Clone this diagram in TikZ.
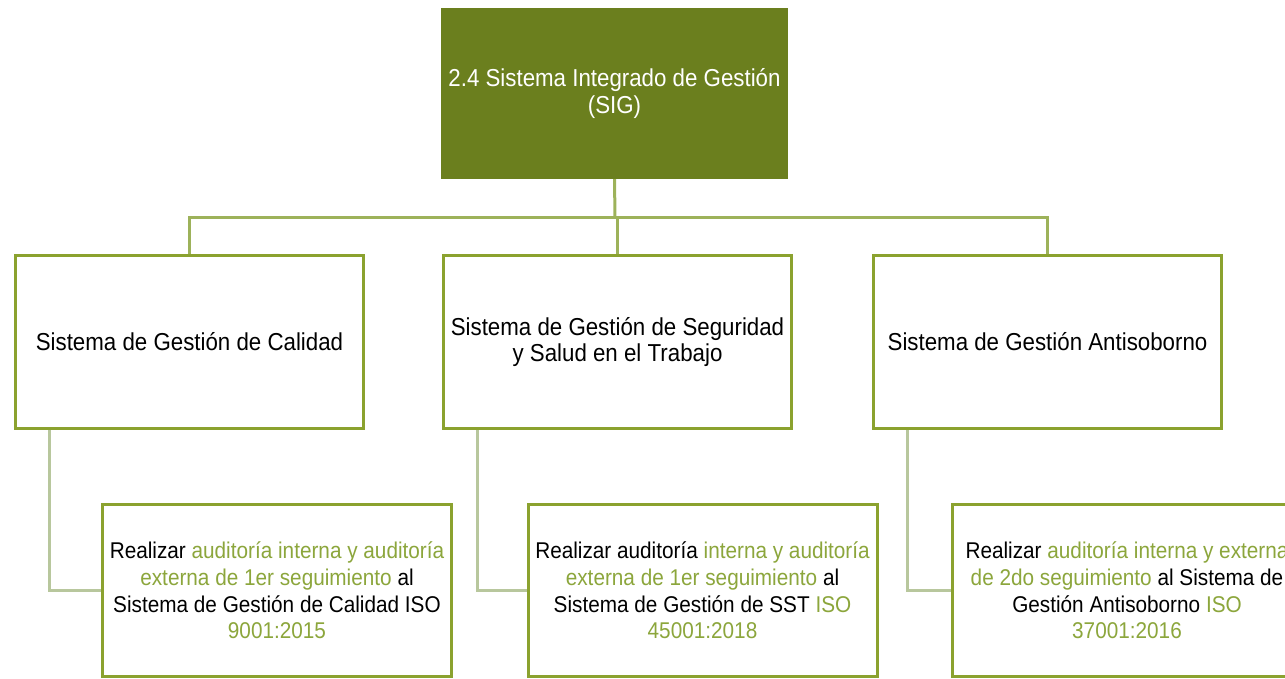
\documentclass[tikz,border=0pt]{standalone}
\usepackage{fontspec}
\setmainfont{Liberation Sans}[FakeStretch=0.91]
\usepackage{tikz}
\usetikzlibrary{positioning}
\definecolor{oliva}{HTML}{6B7F1E}
\definecolor{borde}{HTML}{8BA22F}
\definecolor{texto}{HTML}{8CA63C}
\definecolor{linea}{HTML}{9DB25A}
\definecolor{lineaclara}{HTML}{B8C79D}
\newcommand{\verde}[1]{\textcolor{texto}{#1}}

\begin{document}
\begin{tikzpicture}[x=1pt,y=-1pt,
                font=\fontsize{24.5}{26.7}\selectfont,
                caja/.style={draw=borde,line width=3pt,fill=white,
                    minimum width=348pt,minimum height=173pt,
                    inner sep=0pt,align=center,rectangle},
                tarea/.style={caja,minimum width=349pt,minimum height=172pt,
                    font=\fontsize{22.8}{26.7}\selectfont},
                titulo/.style={fill=oliva,text=white,
                    minimum width=347pt,minimum height=171pt,
                    inner sep=0pt,align=center,rectangle},
                bus/.style={draw=linea,line width=3pt},
                rama/.style={draw=lineaclara,line width=3pt}]
                \useasboundingbox (0,0) rectangle (1285,678);
                \clip (0,0) rectangle (1285,678);
                \node[titulo](sig) at (614.5, 93.5) {2.4 Sistema Integrado de Gestión\\(SIG)};
                \node[caja](cal) at (189.5, 342) {Sistema de Gestión de Calidad};
                \node[caja](sst) at (617.5, 342) {Sistema de Gestión de Seguridad\\y Salud en el Trabajo};
                \node[caja](abs) at (1047.5, 342) {Sistema de Gestión Antisoborno};
                \coordinate (union) at (615, 217);
                \draw[bus] (sig.south) -- (union);
                \draw[bus] (cal.north) |- (union) -| (abs.north);
                \draw[bus] (sst.north) -- (sst.north |- union);
                \node[tarea](audcal) at (277, 590.5)
                    {Realizar \verde{auditoría interna y auditoría}\\
                     \verde{externa de 1er seguimiento} al\\
                     Sistema de Gestión de Calidad ISO\\
                     \verde{9001:2015}};
                \node[tarea](audsst) at (702.5, 590.5)
                    {Realizar auditoría \verde{interna y auditoría}\\
                     \verde{externa de 1er seguimiento} al\\
                     Sistema de Gestión de SST \verde{ISO}\\
                     \verde{45001:2018}};
                \node[tarea](audabs) at (1127, 590.5)
                    {Realizar \verde{auditoría interna y externa}\\
                     \verde{de 2do seguimiento} al Sistema de\\
                     Gestión Antisoborno \verde{ISO}\\
                     \verde{37001:2016}};
                \draw[rama] ([xshift=-140.5pt]cal.south) |- (audcal.west);
                \draw[rama] ([xshift=-140.5pt]sst.south) |- (audsst.west);
                \draw[rama] ([xshift=-140.5pt]abs.south) |- (audabs.west);
            \end{tikzpicture}
\end{document}
